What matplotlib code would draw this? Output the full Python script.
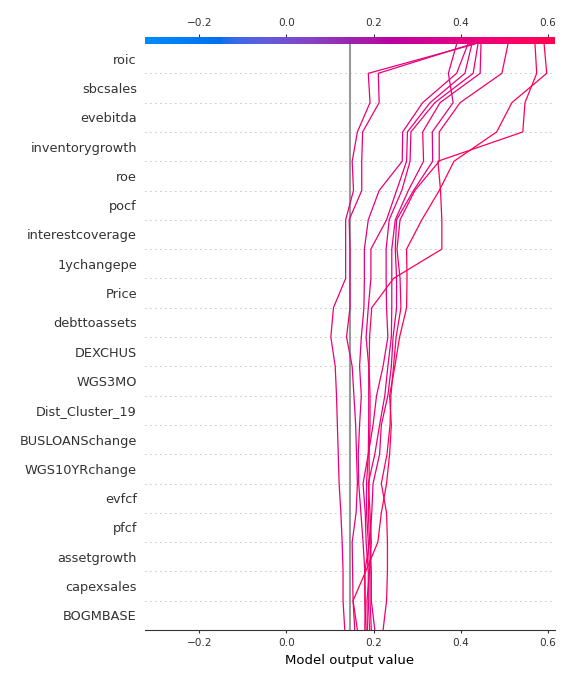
import numpy as np
import matplotlib
matplotlib.use("Agg")
import matplotlib.pyplot as plt
from matplotlib.colors import LinearSegmentedColormap, Normalize
import matplotlib.cm as cm

# ---------------- data ----------------
# features, top (most important) to bottom
features = ["roic", "sbcsales", "evebitda", "inventorygrowth", "roe", "pocf",
            "interestcoverage", "1ychangepe", "Price", "debttoassets", "DEXCHUS",
            "WGS3MO", "Dist_Cluster_19", "BUSLOANSchange", "WGS10YRchange",
            "evfcf", "pfcf", "assetgrowth", "capexsales", "BOGMBASE"]

base_value = 0.146
x_limits = (-0.325, 0.617)
x_ticks = [-0.2, 0.0, 0.2, 0.4, 0.6]

# cumulative model output of each observation, from the bottom level (0) to the top level (20)
obs_1 = [0.134, 0.130, 0.130, 0.128, 0.125, 0.121, 0.119, 0.117, 0.115, 0.112, 0.102,
         0.108, 0.136, 0.136, 0.136, 0.154, 0.151, 0.163, 0.192, 0.188, 0.433]
obs_2 = [0.157, 0.153, 0.152, 0.151, 0.160, 0.163, 0.161, 0.159, 0.155, 0.151, 0.138,
         0.146, 0.146, 0.146, 0.144, 0.173, 0.173, 0.175, 0.213, 0.211, 0.426]
obs_3 = [0.203, 0.195, 0.195, 0.192, 0.196, 0.199, 0.214, 0.218, 0.233, 0.241, 0.245,
         0.253, 0.253, 0.250, 0.253, 0.292, 0.336, 0.335, 0.383, 0.372, 0.391]
obs_4 = [0.180, 0.181, 0.180, 0.176, 0.171, 0.166, 0.165, 0.168, 0.172, 0.168, 0.172,
         0.178, 0.179, 0.179, 0.188, 0.213, 0.266, 0.267, 0.313, 0.391, 0.417]
obs_5 = [0.186, 0.185, 0.191, 0.188, 0.184, 0.184, 0.188, 0.189, 0.189, 0.189, 0.183,
         0.188, 0.194, 0.194, 0.230, 0.253, 0.276, 0.278, 0.330, 0.410, 0.426]
obs_6 = [0.191, 0.188, 0.188, 0.183, 0.181, 0.176, 0.188, 0.199, 0.207, 0.222, 0.233,
         0.230, 0.229, 0.229, 0.236, 0.265, 0.284, 0.286, 0.341, 0.429, 0.440]
obs_7 = [0.195, 0.192, 0.192, 0.195, 0.192, 0.188, 0.203, 0.214, 0.226, 0.233, 0.241,
         0.242, 0.242, 0.242, 0.250, 0.280, 0.315, 0.313, 0.353, 0.445, 0.447]
obs_8 = [0.222, 0.230, 0.232, 0.232, 0.230, 0.218, 0.231, 0.238, 0.240, 0.246, 0.252,
         0.263, 0.261, 0.254, 0.261, 0.295, 0.351, 0.351, 0.399, 0.495, 0.509]
obs_9 = [0.183, 0.180, 0.180, 0.191, 0.188, 0.190, 0.190, 0.192, 0.192, 0.190, 0.191,
         0.196, 0.246, 0.357, 0.357, 0.354, 0.348, 0.543, 0.548, 0.575, 0.571]
obs_10 = [0.163, 0.153, 0.182, 0.210, 0.218, 0.230, 0.237, 0.241, 0.237, 0.249, 0.260,
          0.276, 0.277, 0.276, 0.311, 0.351, 0.385, 0.483, 0.518, 0.598, 0.592]

observations = [obs_1, obs_2, obs_3, obs_4, obs_5, obs_6, obs_7, obs_8, obs_9, obs_10]

# ---------------- colormap (shap red_blue, Lch interpolation) ----------------
def lch_to_rgb(l, c, h):
    a = c * np.cos(h)
    b = c * np.sin(h)
    fy = (l + 16.0) / 116.0
    fx = fy + a / 500.0
    fz = fy - b / 200.0
    d = 6.0 / 29.0
    def finv(t):
        return np.where(t > d, t ** 3, 3 * d * d * (t - 4.0 / 29.0))
    X = 0.95047 * finv(fx)
    Y = 1.00000 * finv(fy)
    Z = 1.08883 * finv(fz)
    M = np.array([[3.2404542, -1.5371385, -0.4985314],
                  [-0.9692660, 1.8760108, 0.0415560],
                  [0.0556434, -0.2040259, 1.0572252]])
    lin = M @ np.array([X, Y, Z])
    lin = np.clip(lin, 0, None)
    rgb = np.where(lin > 0.0031308, 1.055 * np.power(lin, 1 / 2.4) - 0.055, 12.92 * lin)
    return np.clip(rgb, 0, 1)

blue_lch = [54.0, 70.0, 4.6588]
l_mid = 40.0
red_lch = [54.0, 90.0, 0.35470565 + 2 * np.pi]
nsteps = 100
l_vals = list(np.linspace(blue_lch[0], l_mid, nsteps // 2)) + list(np.linspace(l_mid, red_lch[0], nsteps // 2))
c_vals = np.linspace(blue_lch[1], red_lch[1], nsteps)
h_vals = np.linspace(blue_lch[2], red_lch[2], nsteps)
cols = [lch_to_rgb(l, c, h) for l, c, h in zip(l_vals, c_vals, h_vals)]
red_blue = LinearSegmentedColormap.from_list("red_blue", list(zip(np.linspace(0, 1, nsteps), cols)))

# ---------------- figure ----------------
W, H = 576, 684
fig = plt.figure(figsize=(W / 100, H / 100), dpi=100)
ax = fig.add_axes([145 / W, 1 - 630 / H, 410 / W, (630 - 36.7) / H])

n = len(features)
y_pos = np.arange(0, n + 1)

for i in range(n):
    ax.axhline(i, color="#888888", lw=0.6, dashes=(1, 5), zorder=-1)

ax.axvline(base_value, color="#999999", lw=1.5, zorder=-1)

norm = Normalize(vmin=x_limits[0], vmax=x_limits[1])
for obs in observations:
    ax.plot(obs, y_pos, color=red_blue(norm(obs[-1])), lw=0.9)

ax.set_xlim(*x_limits)
ax.set_ylim(0, n + 0.25)
ax.set_yticks(np.arange(n) + 0.5)
ax.set_yticklabels(features[::-1])
ax.set_xticks(x_ticks)

ax.xaxis.set_ticks_position("both")
ax.yaxis.set_ticks_position("none")
for s in ["left", "right", "top"]:
    ax.spines[s].set_visible(False)
ax.spines["bottom"].set_color("#333333")
ax.tick_params(axis="x", color="#333333", labelcolor="#333333", labeltop=True,
               labelsize=7.6, length=2.5, width=0.8)
ax.tick_params(axis="y", labelcolor="#333333", labelsize=9.3, length=0, pad=5.8)
ax.set_xlabel("Model output value", fontsize=9.5, labelpad=4)

# colour bar along the top
cax = ax.inset_axes([x_limits[0], n, x_limits[1] - x_limits[0], 0.25], transform=ax.transData)
sm = cm.ScalarMappable(norm=norm, cmap=red_blue)
sm.set_array([])
cb = fig.colorbar(sm, cax=cax, orientation="horizontal")
cb.set_ticks([])
cb.outline.set_visible(False)

fig.savefig("out.png", dpi=100)
